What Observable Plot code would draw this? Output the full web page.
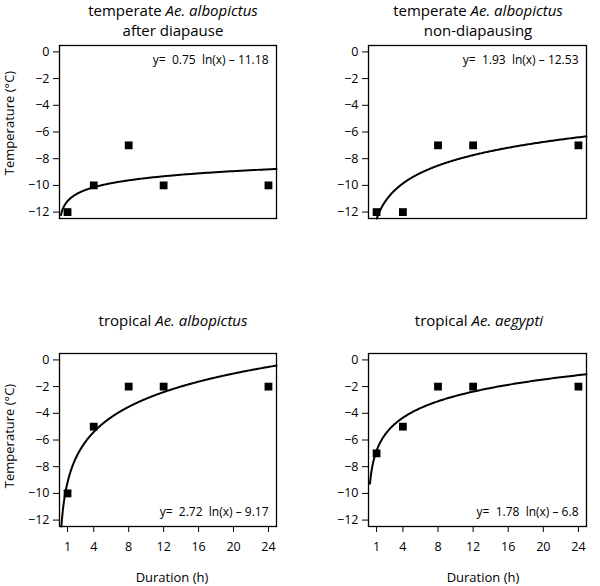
<!DOCTYPE html>
<html>
<head>
<meta charset="utf-8">
<script src="https://cdn.jsdelivr.net/npm/d3@7"></script>
<script src="https://cdn.jsdelivr.net/npm/@observablehq/plot@0.6"></script>
<style>
  html, body { margin: 0; padding: 0; background: #fff; }
  #chart { position: relative; width: 600px; height: 586px; font-family: "Open Sans", sans-serif; color: #000; }
  .title { position: absolute; width: 300px; text-align: center; font-size: 15px; line-height: 20px; white-space: nowrap; }
  .xlab { position: absolute; width: 200px; text-align: center; font-size: 13px; line-height: 16px; }
  .ylab { position: absolute; width: 200px; text-align: center; font-size: 13px; line-height: 16px; transform: rotate(-90deg); }
</style>
</head>
<body>
<div id="chart"></div>
<script>
// ---- data ----
const durations = [1, 4, 8, 12, 24];
const tempTemperateAfterDiapause = [-12, -10, -7, -10, -10];
const tempTemperateNonDiapausing = [-12, -12, -7, -7, -7];
const tempTropicalAlbopictus = [-10, -5, -2, -2, -2];
const tempTropicalAegypti = [-7, -5, -2, -2, -2];
const fitSlopes = [0.75, 1.93, 2.72, 1.78];
const fitIntercepts = [-11.18, -12.53, -9.17, -6.8];
const equationLabels = [
  "y=\u00a0 0.75\u00a0 ln(x) \u2013 11.18",
  "y=\u00a0 1.93\u00a0 ln(x) \u2013 12.53",
  "y=\u00a0 2.72\u00a0 ln(x) \u2013 9.17",
  "y=\u00a0 1.78\u00a0 ln(x) \u2013 6.8"
];
const panelTitles = [
  "temperate <i>Ae. albopictus</i><br>after diapause",
  "temperate <i>Ae. albopictus</i><br>non-diapausing",
  "tropical <i>Ae. albopictus</i>",
  "tropical <i>Ae. aegypti</i>"
];
const xTicks = [1, 4, 8, 12, 16, 20, 24];
const yTicks = [0, -2, -4, -6, -8, -10, -12];
const xLabel = "Duration (h)";
const yLabel = "Temperature (\u00b0C)";
const curveStartX = 0.25;

const series = [tempTemperateAfterDiapause, tempTemperateNonDiapausing, tempTropicalAlbopictus, tempTropicalAegypti];

const xDomain = [0.08, 24.92];
const yDomain = [-12.48, 0.48];

const chart = document.getElementById("chart");

// panel layout: [svgLeft, svgTop, width, height, marginLeft, marginRight, marginTop, marginBottom]
const layouts = [
  [0, 0, 300, 240, 59, 24, 45, 22],
  [300, 0, 300, 240, 68, 14, 45, 22],
  [0, 300, 300, 286, 59, 24, 53, 60],
  [300, 300, 300, 286, 68, 14, 53, 60]
];

for (let i = 0; i < 4; i++) {
  const [L, T, W, H, ml, mr, mt, mb] = layouts[i];
  const showX = i >= 2;
  const pts = durations.map((d, j) => ({x: d, y: series[i][j]}));
  const a = fitSlopes[i], b = fitIntercepts[i];
  const x0 = Math.max(curveStartX, Math.exp((yDomain[0] - b) / a));
  const curve = [];
  const n = 400;
  for (let k = 0; k <= n; k++) {
    const x = x0 * Math.pow(xDomain[1] / x0, k / n);
    curve.push({x, y: a * Math.log(x) + b});
  }
  const svg = Plot.plot({
    width: W, height: H,
    marginLeft: ml, marginRight: mr, marginTop: mt, marginBottom: mb,
    style: {fontFamily: "Open Sans, sans-serif", fontSize: "12.5px", background: "transparent", color: "#000", overflow: "visible"},
    x: {domain: xDomain, ticks: xTicks, tickSize: 6, tickPadding: 10, label: null, axis: showX ? "bottom" : null},
    y: {domain: yDomain, ticks: yTicks, tickSize: 6, tickPadding: 4, label: null},
    marks: [
      Plot.line(curve, {x: "x", y: "y", stroke: "black", strokeWidth: 2}),
      Plot.dot(pts, {x: "x", y: "y", symbol: "square", r: 4.4, fill: "black", stroke: "none"}),
      Plot.text([equationLabels[i]], {
        frameAnchor: showX ? "bottom-right" : "top-right",
        text: d => d, textAnchor: "end", lineAnchor: "middle",
        dx: -8, dy: showX ? -14 : 15, fontSize: 12, fill: "black"
      }),
      Plot.frame({stroke: "black", strokeWidth: 1.3})
    ]
  });
  svg.style.position = "absolute";
  svg.style.left = L + "px";
  svg.style.top = T + "px";
  chart.appendChild(svg);
}

// titles
const titlePos = [[173, 0], [478, 0], [173, 310], [479, 310]];
titlePos.forEach(([cx, top], i) => {
  const d = document.createElement("div");
  d.className = "title";
  d.style.left = (cx - 150) + "px";
  d.style.top = top + "px";
  d.innerHTML = panelTitles[i];
  chart.appendChild(d);
});

// x labels
[[172, 577], [483, 577]].forEach(([cx, cy]) => {
  const d = document.createElement("div");
  d.className = "xlab";
  d.style.left = (cx - 100) + "px";
  d.style.top = (cy - 8) + "px";
  d.textContent = xLabel;
  chart.appendChild(d);
});

// y labels
[[9, 123], [9, 436]].forEach(([cx, cy]) => {
  const d = document.createElement("div");
  d.className = "ylab";
  d.style.left = (cx - 100) + "px";
  d.style.top = (cy - 8) + "px";
  d.textContent = yLabel;
  chart.appendChild(d);
});
</script>
</body>
</html>
